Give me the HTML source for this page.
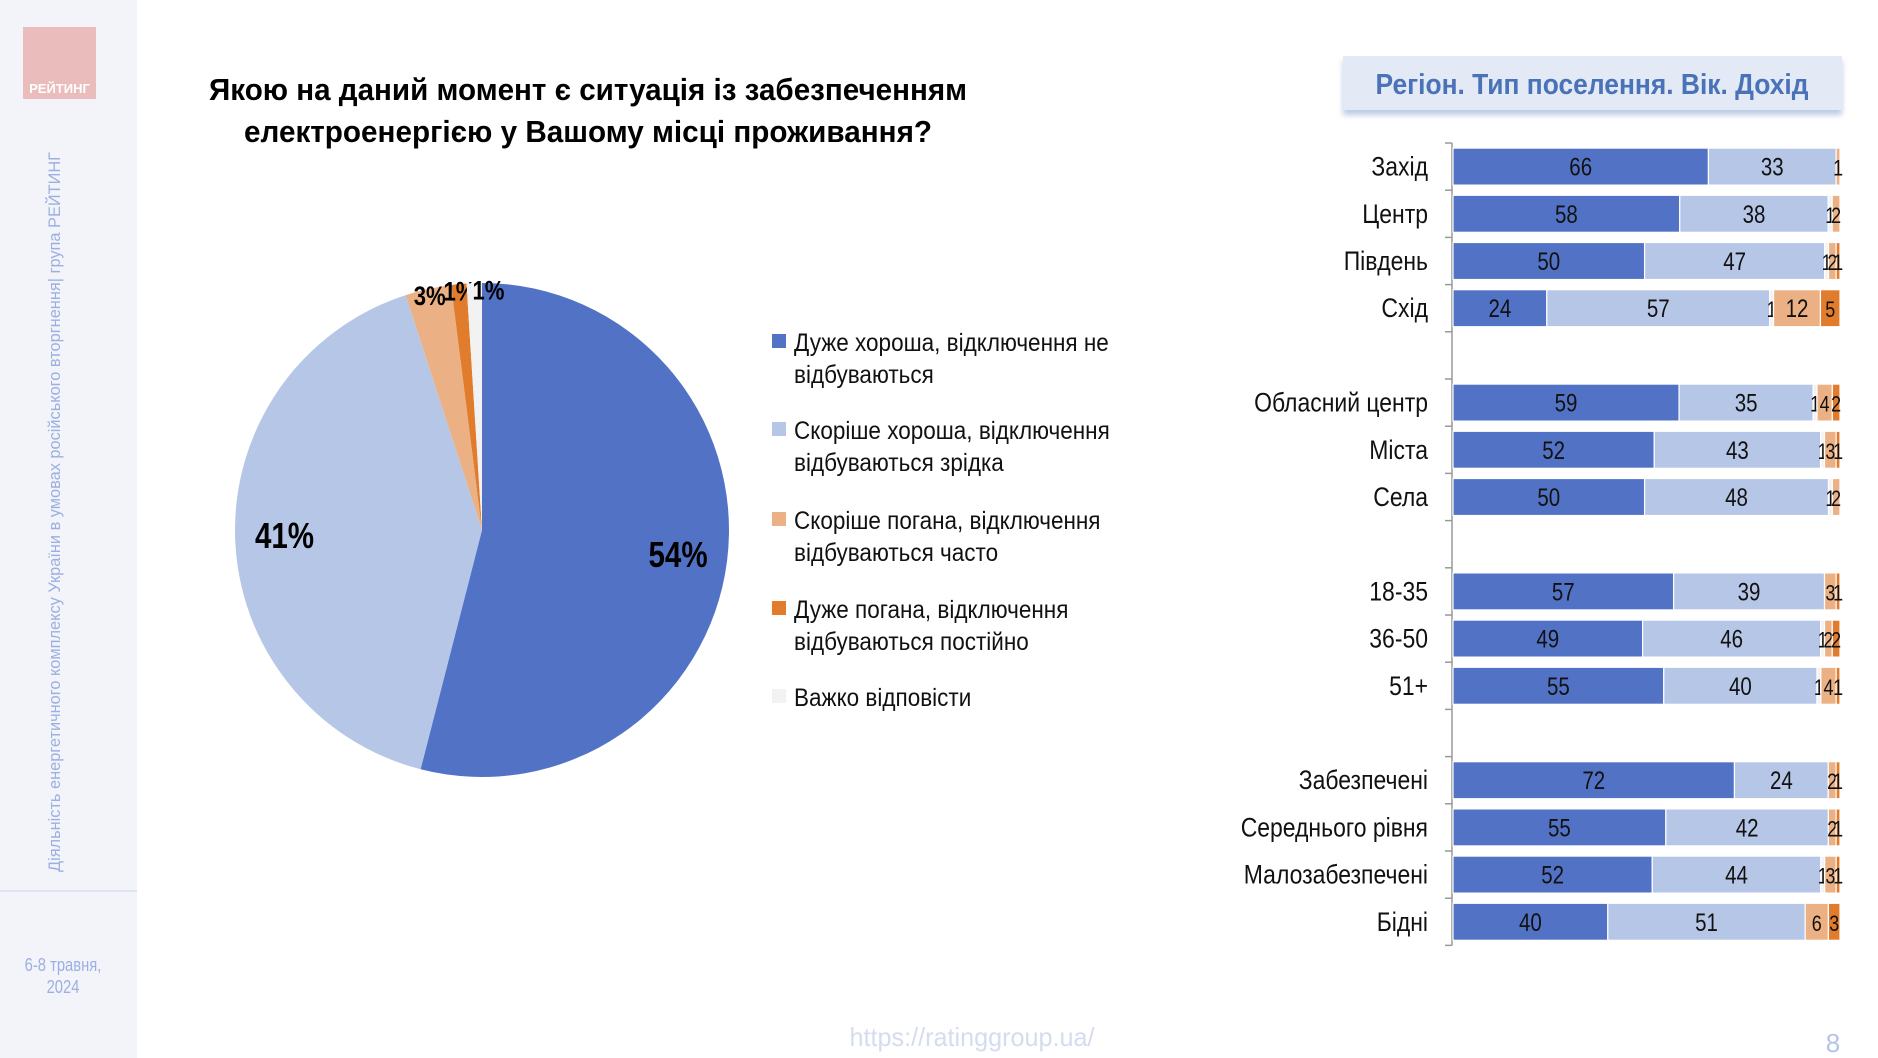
<!DOCTYPE html>
<html><head><meta charset="utf-8">
<style>
html,body{margin:0;padding:0;background:#fff;}
svg{display:block;font-family:"Liberation Sans Narrow","Liberation Sans",sans-serif;}
</style></head>
<body>
<svg id="root" width="1878" height="1058" viewBox="0 0 1878 1058" xmlns="http://www.w3.org/2000/svg">
  <defs>
    <filter id="sh" x="-5%" y="-30%" width="110%" height="170%">
      <feDropShadow dx="0" dy="5" stdDeviation="3" flood-color="#9fb3d9" flood-opacity="0.7"/>
    </filter>
  </defs>
  <rect x="0" y="0" width="137" height="1058" fill="#f3f4fa"/>
  <rect x="0" y="890" width="137" height="2" fill="#dde3f2"/>
  <g>
    <rect x="23" y="27" width="73" height="72" fill="#ebbcbc"/>
    <text x="59.5" y="93" text-anchor="middle" font-family="Liberation Sans" font-weight="bold" font-size="13" fill="#fff">РЕЙТИНГ</text>
  </g>
  <text transform="translate(60,512) rotate(-90)" text-anchor="middle" font-family="Liberation Sans" font-size="17" fill="#9bb0e0" textLength="720" lengthAdjust="spacingAndGlyphs">Діяльність енергетичного комплексу України в умовах російського вторгнення| група РЕЙТИНГ</text>
  <text class="narrow" x="63" y="971" text-anchor="middle" font-size="18" fill="#9bb0e0">6-8 травня,</text>
  <text class="narrow" x="63" y="993" text-anchor="middle" font-size="18" fill="#9bb0e0">2024</text>

  <g>
    <text x="588" y="100" text-anchor="middle" font-weight="bold" font-size="31" fill="#000" textLength="758" lengthAdjust="spacingAndGlyphs">Якою на даний момент є ситуація із забезпеченням</text>
    <text x="588" y="142" text-anchor="middle" font-weight="bold" font-size="31" fill="#000" textLength="688" lengthAdjust="spacingAndGlyphs">електроенергією у Вашому місці проживання?</text>
  </g>

  <g id="pie"></g>
  <g id="legend"></g>

  <g>
    <rect x="1343" y="56" width="499" height="54" fill="#e3e9f5" filter="url(#sh)"/>
    <text x="1592" y="94" text-anchor="middle" font-weight="bold" font-size="29" fill="#4a72b8" textLength="433" lengthAdjust="spacingAndGlyphs">Регіон. Тип поселення. Вік. Дохід</text>
  </g>
  <g id="bars"></g>

  <text x="972" y="1046" text-anchor="middle" font-size="26" fill="#d5dcef" textLength="245" lengthAdjust="spacingAndGlyphs">https://ratinggroup.ua/</text>
  <text x="1833" y="1052" text-anchor="middle" font-size="26" fill="#b4c4e8">8</text>
</svg>
<script>
const pieLabels = ["Дуже хороша, відключення не відбуваються","Скоріше хороша, відключення відбуваються зрідка","Скоріше погана, відключення відбуваються часто","Дуже погана, відключення відбуваються постійно","Важко відповісти"];
const pieValues = [54, 41, 3, 1, 1];
const pieColors = ["#5273c5","#b6c6e7","#ebb184","#e07c2c","#f2f2f2"];
const legendLines = [["Дуже хороша, відключення не","відбуваються"],["Скоріше хороша, відключення","відбуваються зрідка"],["Скоріше погана, відключення","відбуваються часто"],["Дуже погана, відключення","відбуваються постійно"],["Важко відповісти"]];

const barCategories = ["Захід","Центр","Південь","Схід","Обласний центр","Міста","Села","18-35","36-50","51+","Забезпечені","Середнього рівня","Малозабезпечені","Бідні"];
const barSlots = [0,1,2,3,5,6,7,9,10,11,13,14,15,16];
const veryGood   = [66,58,50,24,59,52,50,57,49,55,72,55,52,40];
const ratherGood = [33,38,47,57,35,43,48,39,46,40,24,42,44,51];
const hardToSay  = [0,1,1,1,1,1,1,0,1,1,0,0,1,0];
const ratherBad  = [1,2,2,12,4,3,2,3,2,4,2,2,3,6];
const veryBad    = [0,0,1,5,2,1,0,1,2,1,1,1,1,3];
const barSeries = [veryGood, ratherGood, hardToSay, ratherBad, veryBad];
const barColors = ["#5273c5","#b6c6e7","#f2f2f2","#ebb184","#e07c2c"];

const NS = "http://www.w3.org/2000/svg";
function mk(tag, attrs, parent){ const e=document.createElementNS(NS,tag); for(const k in attrs) e.setAttribute(k,attrs[k]); parent.appendChild(e); return e; }

// Pie
const pie = document.getElementById('pie');
const cx=482, cy=530, R=247;
const total = pieValues.reduce((a,b)=>a+b,0);
function pt(frac, r){ const a=frac*2*Math.PI; return [cx+r*Math.sin(a), cy-r*Math.cos(a)]; }
let acc=0;
pieValues.forEach((v,i)=>{
  const f0=acc/total, f1=(acc+v)/total; acc+=v;
  const p0=pt(f0,R), p1=pt(f1,R);
  const large=(f1-f0)>0.5?1:0;
  const s=mk('path',{d:`M${cx},${cy} L${p0[0]},${p0[1]} A${R},${R} 0 ${large} 1 ${p1[0]},${p1[1]} Z`,fill:pieColors[i]},pie);
  
  
  const mid=(f0+f1)/2;
  const big = v>=10;
  const lp = pt(mid, big?0.8*R:0.97*R);
  let dx = 0;
  if(!big && i===4) dx = 14;
  const t=mk('text',{x:lp[0]+dx,y:lp[1]+(big?12:9),'text-anchor':'middle','font-weight':'bold','font-size':big?36:27,fill:'#000','class':'narrow'},pie);
  t.textContent=v+'%';
  
  
});

// Legend
const leg=document.getElementById('legend');
const legY=[342,430,520,609,697];
legendLines.forEach((lines,i)=>{
  const g=mk('g',{},leg);
  
  
  mk('rect',{x:772,y:legY[i]-8,width:14,height:14,fill:pieColors[i]},g);
  lines.forEach((ln,j)=>{
    const t=mk('text',{x:794,y:legY[i]+9+j*32,'font-size':25,fill:'#111','class':'narrow','data-f':'0.9'},g);
    t.textContent=ln;
  });
});

// Bars
const bars=document.getElementById('bars');
const axX=1452, top0=143, slotH=47.2, barH=37, fullW=387;
const axis=mk('line',{x1:axX,y1:top0,x2:axX,y2:top0+17*slotH,stroke:'#999','stroke-width':1.5},bars);


for(let k=0;k<=17;k++){
  const tk=mk('line',{x1:axX-7,y1:top0+k*slotH,x2:axX,y2:top0+k*slotH,stroke:'#999','stroke-width':1.5},bars);
  
  
}
barCategories.forEach((cat,r)=>{
  const yc=top0+(barSlots[r]+0.5)*slotH;
  const lab=mk('text',{x:axX-24,y:yc+9,'text-anchor':'end','font-size':27,fill:'#111','class':'narrow','data-f':'0.85'},bars);
  lab.textContent=cat;
  
  
  const rowSum = barSeries.reduce((a,ser)=>a+ser[r],0);
  const unit = fullW/rowSum;
  let x=axX+1;
  barSeries.forEach((ser,s)=>{
    const v=ser[r];
    if(v<=0) return;
    const w=v*unit;
    const rc=mk('rect',{x:x,y:yc-barH/2,width:w,height:barH,fill:barColors[s],stroke:'#fff','stroke-width':1.2},bars);
    
    
    const t=mk('text',{x:x+w/2,y:yc+9,'text-anchor':'middle','font-size':v<10?22:25,fill:'#111','class':'narrow'},bars);
    t.textContent=v;
    
    
    x+=w;
  });
});

// Emulate condensed font if no narrow face is available
document.querySelectorAll('text.narrow').forEach(t=>{
  const L=t.getComputedTextLength();
  const f=parseFloat(t.getAttribute('data-f')||'0.82');
  if(L>0){ t.setAttribute('textLength',(L*f).toFixed(1)); t.setAttribute('lengthAdjust','spacingAndGlyphs'); }
});
</script>
</body></html>
